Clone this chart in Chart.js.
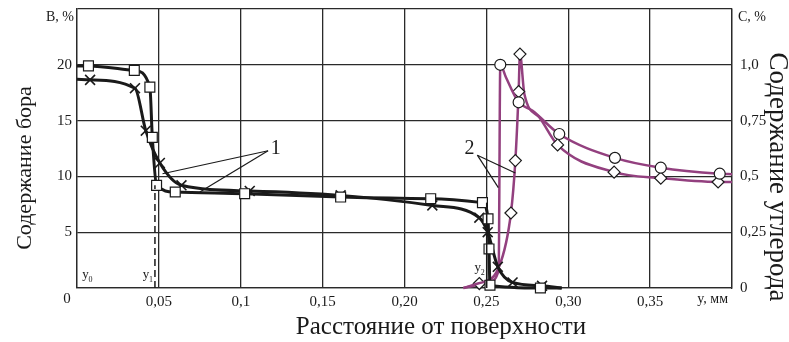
<!DOCTYPE html>
<html>
<head>
<meta charset="utf-8">
<script src="https://cdn.jsdelivr.net/npm/chart.js@4/dist/chart.umd.min.js"></script>
<style>
  html, body { margin: 0; padding: 0; background: #fff; }
  #wrap { width: 789px; height: 342px; position: relative; }
</style>
</head>
<body>
<div id="wrap"><canvas id="plot"></canvas></div>
<script>
/* boron profile, square markers: x in mm, B in % */
const sqX    = [0, 0.007, 0.035, 0.0445, 0.046, 0.0486, 0.060, 0.1024, 0.161, 0.216, 0.2476, 0.2510, 0.2516, 0.2522, 0.283, 0.296];
const sqB    = [19.9, 19.9, 19.5, 18.0, 13.5, 9.2, 8.6, 8.45, 8.15, 8.0, 7.65, 6.2, 3.5, 0.25, 0.0, 0.0];
const sqMark = [0, 1, 1, 1, 1, 1, 1, 1, 1, 1, 1, 1, 1, 1, 1, 0];

/* boron profile, cross markers */
const crX    = [0, 0.008, 0.0354, 0.042, 0.0506, 0.0638, 0.1055, 0.161, 0.217, 0.2457, 0.2508, 0.257, 0.266, 0.284, 0.296];
const crB    = [18.7, 18.65, 17.9, 14.1, 11.2, 9.2, 8.7, 8.3, 7.4, 6.3, 5.0, 1.9, 0.5, 0.2, 0.0];
const crMark = [0, 1, 1, 1, 1, 1, 1, 1, 1, 1, 1, 1, 1, 1, 0];

/* carbon profile, circle markers: C in % */
const ciX    = [0.236, 0.252, 0.2575, 0.2585, 0.262, 0.2697, 0.278, 0.2945, 0.3285, 0.3565, 0.3925, 0.400];
const ciC    = [0.0, 0.03, 0.08, 1.0, 0.943, 0.832, 0.795, 0.69, 0.583, 0.539, 0.512, 0.51];
const ciMark = [0, 0, 0, 1, 0, 1, 0, 1, 1, 1, 1, 0];

/* carbon profile, diamond markers */
const diX    = [0.236, 0.2457, 0.258, 0.265, 0.2677, 0.2697, 0.2705, 0.2732, 0.2823, 0.2935, 0.328, 0.3565, 0.3915, 0.400];
const diC    = [0.0, 0.02, 0.1, 0.336, 0.571, 0.88, 1.048, 0.869, 0.765, 0.641, 0.519, 0.492, 0.475, 0.475];
const diMark = [0, 1, 0, 1, 1, 1, 1, 0, 0, 1, 1, 1, 1, 0];

/* tick labels (origin "0" and the unit "y, мм" are placed by hand) */
const xTickLabels  = ['', '0,05', '0,1', '0,15', '0,20', '0,25', '0,30', '0,35', ''];
const bTickLabels  = ['', '5', '10', '15', '20', ''];
const cTickLabels  = ['0', '0,25', '0,5', '0,75', '1,0', ''];

/* boundary markers y0, y1, y2 and curve callouts */
const bounds = [
  { name: 'y', sub: '0', x: 0.004, lineTo: null },
  { name: 'y', sub: '1', x: 0.0476, lineTo: 9.2, dashed: true },
  { name: 'y', sub: '2', x: 0.2502, lineTo: 7.65, dashed: false }
];
const callouts = [
  { text: '1', at: [0.1165, 12.5], from: [0.1118, 12.3], to: [[0.0522, 10.24], [0.075, 8.6]] },
  { text: '2', at: [0.2348, 12.5], from: [0.2396, 11.9], to: [[0.2677, 10.3], [0.2573, 9.0]] }
];

const SERIF = '"Liberation Serif", "DejaVu Serif", serif';
const INK = '#1a1a1a';
const PURPLE = '#93407f';

const pts = (xs, ys) => xs.map((x, i) => ({ x: x, y: ys[i] }));

// fixed axis boxes, no extra room for half-labels at the ends
const fitBox = (w, h) => s => {
  if (w) s.width = w;
  if (h) s.height = h;
  s.paddingTop = 0; s.paddingBottom = 0;
  s.paddingLeft = 0; s.paddingRight = 0;
};

const annotate = {
  id: 'annotate',
  afterDraw(chart) {
    const { ctx, chartArea: a, scales } = chart;
    const sx = scales.x, sb = scales.y;
    ctx.save();
    ctx.fillStyle = INK;
    ctx.strokeStyle = INK;

    // unit captions and corner labels
    ctx.font = '14px ' + SERIF;
    ctx.textBaseline = 'middle';
    ctx.textAlign = 'center';
    ctx.fillText('B, %', a.left - 17, 17);
    ctx.font = '15px ' + SERIF;
    ctx.fillText('0', a.left - 10, 299);
    ctx.font = '14px ' + SERIF;
    ctx.textAlign = 'left';
    ctx.fillText('C, %', a.right + 6, 17);
    ctx.textAlign = 'right';
    ctx.fillText('y, мм', a.right - 4, 299);

    // axis titles
    ctx.textAlign = 'center';
    ctx.font = '25px ' + SERIF;
    ctx.fillText('Расстояние от поверхности', 441, 327);
    ctx.save();
    ctx.font = '22px ' + SERIF;
    ctx.translate(25, 168);
    ctx.rotate(-Math.PI / 2);
    ctx.fillText('Содержание бора', 0, 0);
    ctx.restore();
    ctx.save();
    ctx.font = '27px ' + SERIF;
    ctx.translate(777, 177);
    ctx.rotate(Math.PI / 2);
    ctx.fillText('Содержание углерода', 0, 0);
    ctx.restore();

    // boundary lines and their labels
    bounds.forEach(b => {
      const px = sx.getPixelForValue(b.x);
      if (b.lineTo !== null) {
        ctx.beginPath();
        ctx.lineWidth = 1.5;
        ctx.setLineDash(b.dashed ? [7, 4] : []);
        ctx.moveTo(px, sb.getPixelForValue(0));
        ctx.lineTo(px, sb.getPixelForValue(b.lineTo));
        ctx.stroke();
        ctx.setLineDash([]);
      }
      const lx = b.lineTo === null ? px + 2 : px - 9;
      ctx.font = '13px ' + SERIF;
      ctx.textAlign = 'center';
      ctx.fillText(b.name, lx, b.sub === '2' ? 268 : 275);
      ctx.font = '8px ' + SERIF;
      ctx.fillText(b.sub, lx + 5, b.sub === '2' ? 273 : 280);
    });

    // numbered callouts with leader lines
    callouts.forEach(c => {
      ctx.font = '20px ' + SERIF;
      ctx.textAlign = 'center';
      ctx.fillText(c.text, sx.getPixelForValue(c.at[0]) + 8, sb.getPixelForValue(c.at[1]));
      ctx.lineWidth = 1.2;
      c.to.forEach(t => {
        ctx.beginPath();
        ctx.moveTo(sx.getPixelForValue(c.from[0]) + 8, sb.getPixelForValue(c.from[1]));
        ctx.lineTo(sx.getPixelForValue(t[0]), sb.getPixelForValue(t[1]));
        ctx.stroke();
      });
    });
    ctx.restore();
  }
};

function series(label, xs, ys, marks, axis, color, style, r) {
  return {
    label: label,
    data: pts(xs, ys),
    yAxisID: axis,
    borderColor: color,
    borderWidth: color === INK ? 3 : 2.5,
    cubicInterpolationMode: 'monotone',
    pointStyle: style,
    pointRadius: c => marks[c.dataIndex] ? r : 0,
    pointHoverRadius: 0,
    pointBackgroundColor: '#fff',
    pointBorderColor: INK,
    pointBorderWidth: style === 'crossRot' ? 1.6 : 1.2,
    clip: false
  };
}

new Chart(document.getElementById('plot'), {
  type: 'line',
  data: {
    datasets: [
      series('B', sqX, sqB, sqMark, 'y', INK, 'rect', 7),
      series('B', crX, crB, crMark, 'y', INK, 'crossRot', 7),
      series('C', ciX, ciC, ciMark, 'yC', PURPLE, 'circle', 5.5),
      series('C', diX, diC, diMark, 'yC', PURPLE, 'rectRot', 6)
    ]
  },
  options: {
    responsive: true,
    maintainAspectRatio: false,
    animation: false,
    layout: { padding: { top: 9, left: 0, right: 0, bottom: 0 } },
    plugins: { legend: { display: false }, tooltip: { enabled: false } },
    scales: {
      x: {
        type: 'linear', min: 0, max: 0.4,
        afterFit: fitBox(0, 54),
        grid: { color: '#2a2a2a', lineWidth: 1.3, drawTicks: false },
        border: { color: '#2a2a2a', width: 1.3 },
        ticks: {
          stepSize: 0.05, padding: 5, maxRotation: 0, autoSkip: false,
          color: INK, font: { family: SERIF, size: 15 },
          callback: (v, i) => xTickLabels[i]
        }
      },
      y: {
        position: 'left', min: 0, max: 25,
        afterFit: fitBox(77, 0),
        grid: { color: '#2a2a2a', lineWidth: 1.3, drawTicks: false },
        border: { color: '#2a2a2a', width: 1.3 },
        ticks: {
          stepSize: 5, padding: 5,
          color: INK, font: { family: SERIF, size: 15 },
          callback: (v, i) => bTickLabels[i]
        }
      },
      yC: {
        position: 'right', min: 0, max: 1.25,
        afterFit: fitBox(57, 0),
        grid: { display: false, drawTicks: false },
        border: { color: '#2a2a2a', width: 1.3 },
        ticks: {
          stepSize: 0.25, padding: 8,
          color: INK, font: { family: SERIF, size: 15 },
          callback: (v, i) => cTickLabels[i]
        }
      }
    }
  },
  plugins: [annotate]
});
</script>
</body>
</html>
